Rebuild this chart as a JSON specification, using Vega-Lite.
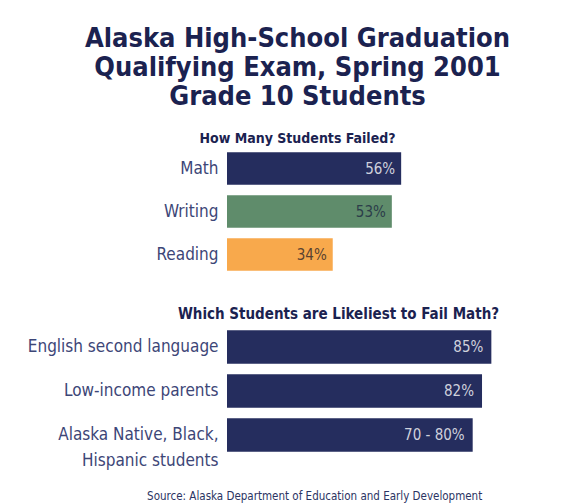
{
  "$schema": "https://vega.github.io/schema/vega-lite/v6.json",
  "padding": {"left": 27, "top": 25, "right": 5, "bottom": 3},
  "background": "white",
  "spacing": 31,
  "title": {
    "text": "Source: Alaska Department of Education and Early Development",
    "orient": "bottom",
    "anchor": "middle",
    "dx": 32,
    "fontSize": 11.5,
    "font": "'DejaVu Sans Condensed', 'Liberation Sans Narrow', 'Roboto Condensed', sans-serif",
    "fontWeight": "normal",
    "color": "#2b3463",
    "offset": 22
  },
  "config": {
    "view": {"stroke": null},
    "axis": {
      "labelFont": "'DejaVu Sans Condensed', 'Liberation Sans Narrow', 'Roboto Condensed', sans-serif",
      "labelFontSize": 17,
      "labelColor": "#3d4677",
      "labelPadding": 9,
      "labelLimit": 260,
      "ticks": false,
      "domain": false,
      "grid": false,
      "title": null
    }
  },
  "vconcat": [
    {
      "title": {
        "text": ["Alaska High-School Graduation", "Qualifying Exam,  Spring 2001", "Grade 10 Students"],
        "subtitle": "How Many Students Failed?",
        "font": "'DejaVu Sans Condensed', 'Liberation Sans Narrow', 'Roboto Condensed', sans-serif",
        "fontSize": 27,
        "fontWeight": "bold",
        "lineHeight": 29,
        "color": "#1b2250",
        "subtitleFont": "'DejaVu Sans Condensed', 'Liberation Sans Narrow', 'Roboto Condensed', sans-serif",
        "subtitleFontSize": 14,
        "subtitleFontWeight": "bold",
        "subtitleColor": "#1b2250",
        "subtitlePadding": 21,
        "anchor": "middle",
        "dx": -85,
        "offset": 0
      },
      "data": {"values": [
        {"item": "Math", "value": 56, "label": "56%"},
        {"item": "Writing", "value": 53, "label": "53%"},
        {"item": "Reading", "value": 34, "label": "34%"}
      ]},
      "width": 311,
      "height": 129,
      "encoding": {
        "y": {"field": "item", "type": "nominal", "sort": null, "scale": {"paddingInner": 0.24, "paddingOuter": 0.12}},
        "x": {"field": "value", "type": "quantitative", "scale": {"domain": [0, 100]}, "axis": null}
      },
      "layer": [
        {
          "mark": {"type": "bar"},
          "encoding": {
            "color": {"field": "item", "type": "nominal", "scale": {"domain": ["Math", "Writing", "Reading"], "range": ["#252d5e", "#5f8c6b", "#f8a94c"]}, "legend": null}
          }
        },
        {
          "mark": {"type": "text", "align": "right", "dx": -6, "font": "'DejaVu Sans Condensed', 'Liberation Sans Narrow', 'Roboto Condensed', sans-serif", "fontSize": 15},
          "encoding": {
            "text": {"field": "label"},
            "color": {"field": "item", "type": "nominal", "scale": {"domain": ["Math", "Writing", "Reading"], "range": ["#cfd1dc", "#2c3d4a", "#5a4230"]}, "legend": null}
          }
        }
      ],
      "resolve": {"scale": {"color": "independent"}}
    },
    {
      "title": {
        "text": "Which Students are Likeliest to Fail Math?",
        "font": "'DejaVu Sans Condensed', 'Liberation Sans Narrow', 'Roboto Condensed', sans-serif",
        "fontSize": 15,
        "fontWeight": "bold",
        "color": "#1b2250",
        "anchor": "middle",
        "dx": -44,
        "offset": 3
      },
      "data": {"values": [
        {"item": "English second language", "value": 85, "label": "85%"},
        {"item": "Low-income parents", "value": 82, "label": "82%"},
        {"item": "Alaska Native, Black, Hispanic students", "value": 79, "label": "70 - 80%"}
      ]},
      "width": 311,
      "height": 132,
      "encoding": {
        "y": {
          "field": "item", "type": "nominal", "sort": null,
          "scale": {"paddingInner": 0.24, "paddingOuter": 0.12},
          "axis": {
            "labelExpr": "datum.label == 'Alaska Native, Black, Hispanic students' ? ['Alaska Native, Black,', 'Hispanic students'] : datum.label",
            "labelLineHeight": 26
          }
        },
        "x": {"field": "value", "type": "quantitative", "scale": {"domain": [0, 100]}, "axis": null}
      },
      "layer": [
        {"mark": {"type": "bar", "color": "#252d5e"}},
        {
          "mark": {"type": "text", "align": "right", "dx": -8, "font": "'DejaVu Sans Condensed', 'Liberation Sans Narrow', 'Roboto Condensed', sans-serif", "fontSize": 15, "color": "#cfd1dc"},
          "encoding": {"text": {"field": "label"}}
        }
      ]
    }
  ]
}
